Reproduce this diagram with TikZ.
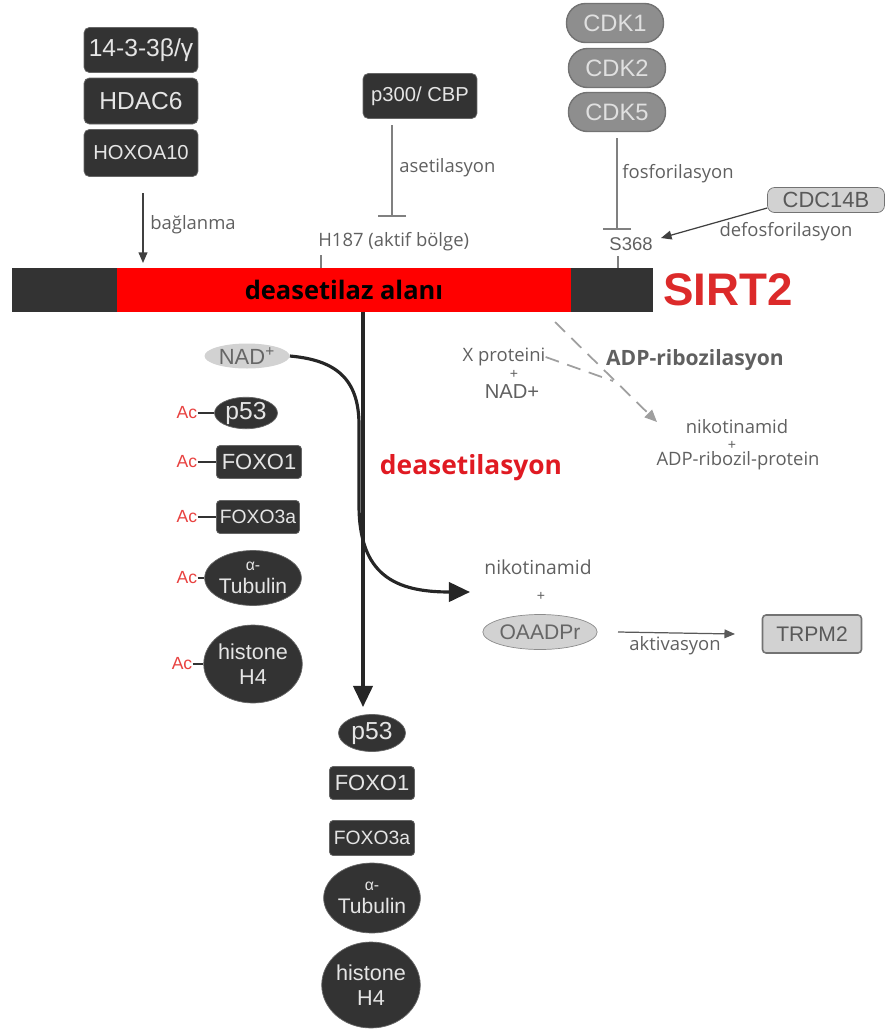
\documentclass[tikz,border=0pt]{standalone}
\usepackage{fontspec}
\setmainfont{Open Sans}
\newfontfamily\arialf{Liberation Sans}
\usetikzlibrary{arrows.meta,shapes.geometric}
\definecolor{dk}{HTML}{333333}
\definecolor{lblc}{HTML}{606060}
\definecolor{cdkg}{HTML}{8E8E8E}
\definecolor{lgr}{HTML}{D2D2D2}
\definecolor{sirtred}{HTML}{DC2A2A}
\definecolor{acred}{HTML}{E8413F}
\definecolor{deasred}{HTML}{E01A22}
\newcommand\fsz[1]{\fontsize{#1}{#1}\selectfont}

\begin{document}
\begin{tikzpicture}[x=0.02cm,y=-0.02cm,
  dbox/.style={fill=dk,draw=black!60,rounded corners=3pt,text=white!90!black,font=\arialf,inner sep=0pt},
  doval/.style={ellipse,fill=dk,draw=black!60,text=white!90!black,font=\arialf,inner sep=0pt,align=center},
  cdk/.style={fill=cdkg,draw=black!55,line width=0.8pt,rounded corners=0.38cm,text=white!88!black,font=\arialf\fsz{13.5},minimum width=1.94cm,minimum height=0.78cm},
  lbl/.style={text=lblc,inner sep=0pt,font=\fsz{10.5}},
  plus/.style={text=lblc,inner sep=0pt,font=\arialf\fsz{8}},
  ac/.style={text=acred,font=\arialf\fsz{10},inner sep=0pt},
  inh/.style={draw=gray,line width=0.9pt,-{Bar[width=16pt,line width=0.9pt]}},
  thinarr/.style={draw=black!75,line width=0.7pt,-{Triangle[width=5pt,length=6pt]}},
  flow/.style={draw=black!85,line width=1.8pt,-{Triangle[width=11pt,length=12pt]}},
  dasharr/.style={draw=gray!75,line width=1pt,dash pattern=on 8pt off 5pt},
  lgnode/.style={fill=lgr,draw=black!55,text=black!65,font=\arialf,inner sep=0pt}]
\useasboundingbox (0,0) rectangle (887,1032);

% upper partners
\node[dbox,minimum width=2.28cm,minimum height=0.9cm] (b14) at (141,50) {\fsz{14}14-3-3β/γ};
\node[dbox,minimum width=2.28cm,minimum height=0.92cm] (hdac) at (141,101) {\fsz{14}HDAC6};
\node[dbox,minimum width=2.28cm,minimum height=0.94cm] (hox) at (141,153) {\fsz{11.5}HOXOA10};
\node[dbox,minimum width=2.28cm,minimum height=0.9cm] (p300) at (420,96) {\fsz{11.5}p300/ CBP};
\node[cdk] (cdk1) at (615,23) {CDK1};
\node[cdk] (cdk2) at (617,68) {CDK2};
\node[cdk] (cdk5) at (617,112) {CDK5};
\node[lgnode,rounded corners=4pt,minimum width=2.34cm,minimum height=0.5cm] (cdc) at (826,200) {\fsz{12.5}CDC14B};

% SIRT2 bar
\fill[dk] (12,268) rectangle (653,312);
\node[fill=red,minimum width=9.08cm,minimum height=0.88cm,inner sep=0pt,font=\bfseries\fsz{14.5}] (dom) at (344,290) {deasetilaz alanı};
\node[text=sirtred,font=\arialf\bfseries\fsz{26},inner sep=0pt] (sirt) at (728,290) {SIRT2};
\node[lbl,anchor=west] (h187) at (318,242) {H187 (aktif bölge)};
\node[lbl,font=\arialf\fsz{10.5}] (s368) at (631,244) {S368};
\draw[gray,line width=0.9pt] (321,255) -- (321,268);
\draw[gray,line width=0.9pt] (618,256) -- (618,268);

\coordinate (bg1) at (143,193);
\coordinate (bg2) at (143,263);
\draw[thinarr] (bg1) -- (bg2);
\node[lbl,anchor=west] (lbag) at (150,225) {bağlanma};
\coordinate (as1) at (392,125);
\coordinate (as2) at (392,217);
\draw[inh] (as1) -- (as2);
\node[lbl,anchor=west] (lase) at (399,168) {asetilasyon};
\coordinate (fo1) at (617,138);
\coordinate (fo2) at (617,230);
\draw[inh] (fo1) -- (fo2);
\node[lbl,anchor=west] (lfos) at (622,174) {fosforilasyon};
\coordinate (dtip) at (661,238);
\draw[thinarr] (cdc.west |- 0,208) -- (dtip);
\node[lbl] (ldef) at (786,232) {defosforilasyon};

% deacetylation
\coordinate (vtop) at (363,312);
\coordinate (vend) at (363,707);
\draw[flow] (vtop) -- (vend);
\node[ellipse,fill=lgr,inner sep=0pt,minimum width=1.7cm,minimum height=0.5cm,text=black!60,font=\arialf\fsz{12.5}] (nad) at (247,356) {NAD\textsuperscript{+}};
\coordinate (nkend) at (470,592);
\draw[flow] (nad.east) .. controls (335,360) and (359,378) .. (359,425) -- (359,505) .. controls (359,575) and (395,592) .. (nkend);
\node[text=deasred,font=\bfseries\fsz{15},inner sep=0pt] (ldeas) at (471,468) {deasetilasyon};

% acetylated substrates
\node[doval,minimum width=1.26cm,minimum height=0.56cm] (p53a) at (246,413) {\fsz{14}p53};
\node[dbox,rounded corners=2pt,minimum width=1.7cm,minimum height=0.66cm] (fo1a) at (259,462) {\fsz{12.5}FOXO1};
\node[dbox,rounded corners=2pt,minimum width=1.66cm,minimum height=0.66cm] (fo3a) at (258,517) {\fsz{11}FOXO3a};
\node[doval,minimum width=1.66cm,minimum height=1.1cm] (tuba) at (253,578) {\fsz{9}α-\\[1pt]\fsz{12}Tubulin};
\node[doval,minimum width=1.74cm,minimum height=1.56cm] (hisa) at (253,664) {\fsz{12.3}histone\\[2pt]\fsz{12.3}H4};
\node[ac] (ac1) at (187,413) {Ac};
\node[ac] (ac2) at (187,462) {Ac};
\node[ac] (ac3) at (187,517) {Ac};
\node[ac] (ac4) at (187,578) {Ac};
\node[ac] (ac5) at (182,664) {Ac};
\draw[dk,line width=0.8pt] (ac1.east) -- (p53a.west);
\draw[dk,line width=0.8pt] (ac2.east) -- (fo1a.west);
\draw[dk,line width=0.8pt] (ac3.east) -- (fo3a.west);
\draw[dk,line width=0.8pt] (ac4.east) -- (tuba.west);
\draw[dk,line width=0.8pt] (ac5.east) -- (hisa.west);

% deacetylated products
\node[doval,minimum width=1.34cm,minimum height=0.74cm] (p53b) at (372,733) {\fsz{14}p53};
\node[dbox,rounded corners=2pt,minimum width=1.7cm,minimum height=0.66cm] (fo1b) at (372,783) {\fsz{12.5}FOXO1};
\node[dbox,rounded corners=2pt,minimum width=1.7cm,minimum height=0.7cm] (fo3b) at (372,838) {\fsz{11}FOXO3a};
\node[doval,minimum width=1.7cm,minimum height=1.4cm] (tubb) at (372,898) {\fsz{9}α-\\[1pt]\fsz{12}Tubulin};
\node[doval,minimum width=1.76cm,minimum height=1.72cm] (hisb) at (371,985) {\fsz{12.3}histone\\[2pt]\fsz{12.3}H4};

% ADP-ribosylation
\node[lbl] (xp) at (504,357) {X proteini};
\node[plus] (xplus) at (514,374) {+};
\node[lbl,font=\arialf\fsz{11.5}] (xnad) at (512,392) {NAD+};
\node[lbl,font=\bfseries\fsz{12}] (ladp) at (695,360) {ADP-ribozilasyon};
\node[lbl] (nik1) at (737,427) {nikotinamid};
\node[plus] (nplus1) at (732,445) {+};
\node[lbl] (adpp) at (738,461) {ADP-ribozil-protein};
\coordinate (ds1) at (555,322);
\coordinate (ds2) at (657,422);
\coordinate (dsm) at (613,381);
\draw[dasharr,-{Triangle[width=6pt,length=7pt]}] (ds1) -- (ds2);
\draw[dasharr] (xp.east) -- (dsm);

% OAADPr / TRPM2
\node[lbl,font=\fsz{11}] (nik2) at (538,567) {nikotinamid};
\node[plus] (nplus2) at (541,596) {+};
\node[ellipse,fill=lgr,draw=black!45,inner sep=0pt,minimum width=2.2cm,minimum height=0.7cm,text=black!60,font=\arialf\fsz{12}] (oaa) at (540,632) {OAADPr};
\node[lgnode,rounded corners=2pt,minimum width=1.98cm,minimum height=0.76cm,line width=0.9pt] (trpm) at (812,634) {\fsz{12}TRPM2};
\draw[thinarr,draw=black!65] (oaa.east -| 618,0) -- (trpm.west -| 735,0);
\node[lbl] (lakt) at (675,646) {aktivasyon};
\end{tikzpicture}
\end{document}
